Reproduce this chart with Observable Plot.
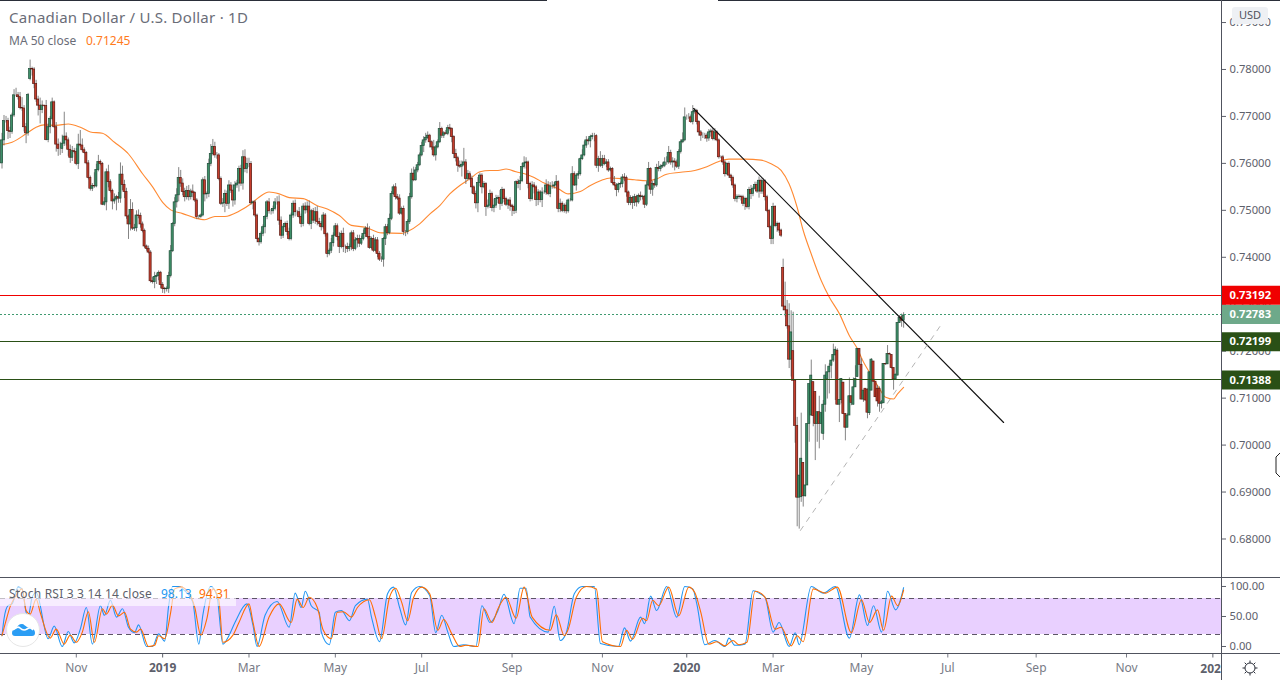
<!DOCTYPE html>
<html><head><meta charset="utf-8">
<script src="https://cdn.jsdelivr.net/npm/d3@7"></script>
<script src="https://cdn.jsdelivr.net/npm/@observablehq/plot@0.6"></script>
<style>
html,body{margin:0;padding:0;background:#fff;overflow:hidden}
#stage{position:relative;width:1280px;height:680px;overflow:hidden;font-family:"Noto Sans",sans-serif}
#top,#bottom{position:absolute;left:0}
#top{top:0}#bottom{top:578px}
.line{position:absolute;background:#50535e}
.t{position:absolute;white-space:nowrap;line-height:1}
</style></head><body><div id="stage">
<div id="top"></div><div id="bottom"></div>
<div class="line" style="left:0;top:0;width:547px;height:1px;background:#2a2e39"></div>
<div class="line" style="left:718px;top:0;width:562px;height:1px;background:#2a2e39"></div>
<div class="line" style="left:0;top:577px;width:1280px;height:1px"></div>
<div class="line" style="left:0;top:653px;width:1280px;height:1px"></div>
<div class="line" style="left:1221px;top:0;width:1px;height:680px"></div>
<div class="t" style="left:9px;top:10px;font-size:15px;letter-spacing:.25px;color:#6a6d78" id="title"></div>
<div class="t" style="left:9px;top:35px;font-size:12px;color:#6a6d78">MA 50 close</div>
<div class="t" style="left:86px;top:35px;font-size:12px;color:#ff7b1c" id="maVal"></div>
<div style="position:absolute;left:1232px;top:7px;width:36px;height:17px;background:#eef0f4;border-radius:3px"></div>
<div class="t" style="left:1232px;top:9px;width:36px;text-align:center;font-size:11px;color:#50535e">USD</div>
<div style="position:absolute;left:0;top:587px;width:236px;height:19px;background:rgba(255,255,255,.62)"></div>
<div class="t" style="left:9px;top:588px;font-size:12px;letter-spacing:.2px;color:#5d606b" id="stochName"></div>
<div class="t" style="left:161px;top:588px;font-size:12px;color:#2196f3" id="kVal"></div>
<div class="t" style="left:199px;top:588px;font-size:12px;color:#ff6d00" id="dVal"></div>
<svg style="position:absolute;left:5px;top:612px" width="36" height="36" viewBox="0 0 36 36">
<circle cx="18" cy="18" r="16.5" fill="#fff" stroke="#e6e6e6"/>
<path d="M7 21c0-3 2-4 4-4 1-3 3-5 6-5 2 0 3 2 5 3 2 1 4 0 5 2 2 0 3 2 3 4 0 2-1 3-3 3H10c-2 0-3-1-3-3z" fill="#2a9df4"/>
<path d="M8 18c3-3 5-4 7-2s4 3 7 1 4-1 6 1" fill="none" stroke="#fff" stroke-width="1.6"/>
</svg>
<svg style="position:absolute;left:1241px;top:659px" width="18" height="18" viewBox="0 0 18 18" fill="none" stroke="#2a2e39" stroke-width="1">
<circle cx="9" cy="9" r="5"/><path d="M9 1.5v2.5M9 14v2.5M1.5 9H4M14 9h2.5M3.7 3.7l1.7 1.7M12.6 12.6l1.7 1.7M3.7 14.3l1.7-1.7M12.6 5.4l1.7-1.7"/>
</svg>
<svg style="position:absolute;left:1274px;top:452px" width="6" height="26" viewBox="0 0 6 26" fill="#fff" stroke="#222" stroke-width="1">
<path d="M6 1L2 5v16l4 4"/>
</svg>
</div>
<script>
const titleText = "Canadian Dollar / U.S. Dollar · 1D";
const maLabel = "0.71245", stochLabel = "Stoch RSI 3 3 14 14 close", kLabel = "98.13", dLabel = "94.31";

// Daily closes in pips (1 pip = 0.0001), one per bar
const closes = [
7649,7690,7690,7669,7667,7702,7745,7745,7741,7718,
7717,7677,7664,7746,7801,7800,7769,7736,7723,7714,
7723,7722,7650,7677,7695,7730,7677,7640,7631,7631,
7642,7657,7649,7629,7612,7626,7624,7599,7640,7638,
7628,7622,7600,7569,7546,7552,7551,7586,7603,7599,
7512,7517,7581,7560,7541,7519,7523,7528,7525,7576,
7554,7539,7487,7470,7501,7461,7462,7489,7488,7470,
7456,7423,7418,7410,7349,7347,7358,7360,7367,7341,
7333,7332,7333,7360,7413,7471,7517,7532,7569,7557,
7539,7528,7541,7528,7540,7537,7521,7486,7486,7489,
7564,7534,7535,7599,7620,7635,7617,7617,7567,7514,
7515,7535,7514,7553,7542,7521,7553,7557,7588,7557,
7613,7588,7599,7599,7515,7517,7489,7439,7432,7450,
7464,7486,7517,7498,7498,7503,7517,7517,7478,7446,
7464,7471,7454,7439,7489,7514,7496,7496,7486,7471,
7508,7500,7508,7471,7498,7478,7496,7475,7471,7464,
7489,7449,7407,7414,7430,7446,7466,7443,7422,7450,
7422,7422,7418,7422,7451,7418,7436,7439,7429,7439,
7450,7461,7443,7420,7439,7414,7436,7407,7395,7395,
7439,7464,7452,7482,7535,7549,7528,7525,7493,7503,
7454,7454,7475,7528,7578,7564,7585,7596,7617,7637,
7649,7654,7659,7645,7634,7617,7634,7645,7673,7659,
7664,7663,7675,7673,7656,7620,7611,7595,7593,7597,
7602,7567,7577,7567,7549,7535,7515,7558,7574,7549,
7556,7507,7510,7535,7505,7510,7524,7526,7514,7543,
7524,7512,7521,7510,7507,7499,7560,7556,7562,7592,
7600,7602,7556,7524,7553,7549,7522,7538,7522,7538,
7538,7553,7535,7551,7551,7553,7560,7503,7514,7499,
7510,7498,7521,7521,7577,7553,7574,7577,7609,7617,
7638,7649,7647,7656,7658,7658,7595,7609,7595,7609,
7599,7602,7585,7588,7558,7553,7543,7555,7556,7570,
7569,7538,7516,7526,7516,7528,7517,7531,7528,7529,
7512,7553,7588,7544,7556,7553,7590,7588,7593,7595,
7602,7602,7622,7602,7604,7602,7593,7624,7645,7649,
7698,7698,7698,7688,7709,7712,7688,7666,7659,7659,
7659,7653,7666,7668,7652,7666,7649,7613,7613,7602,
7577,7599,7574,7569,7553,7524,7528,7529,7528,7514,
7524,7507,7543,7535,7546,7554,7540,7563,7540,7562,
7528,7499,7464,7439,7507,7467,7471,7457,7446,
7295,7287,7253,7182,7240,7137,7041,6888,6935,6971,
6891,6914,7045,7130,7148,7062,7045,7070,7045,7068,
7086,7148,7155,7167,7180,7192,7203,7086,7096,7141,
7066,7037,7063,7104,7090,7123,7141,7205,7171,7097,
7116,7095,7069,7155,7182,7135,7102,7093,7088,7091,
7173,7172,7194,7193,7164,7140,7150,7260,7271,7265,
7276];
const firstOpen = 7600;
// Bars whose open differs from the previous close
const gapOpenBars = [14,389,394,398,399,403,404,405,409,411,413,415,416,419,424,426,430,431,432,433,434,436,437,439,443,446,448];
const gapOpens = [7780,7377,7200,6889,6962,7063,7134,7113,7024,7141,7169,7191,7201,7133,7086,7145,7120,7118,7068,7116,7178,7120,7120,7089,7192,7148,7272];
const upWicks = [
15,12,10,6,8,5,12,15,6,10,22,6,8,3,19,4,4,8,7,16,
10,0,12,7,5,9,3,10,12,14,18,52,8,5,10,10,6,8,22,30,
14,5,3,6,4,5,28,12,14,4,3,10,7,15,5,4,12,4,10,25,
18,10,8,3,22,15,8,10,12,6,5,4,3,6,4,8,10,5,4,3,
5,3,4,8,12,3,10,14,22,16,10,8,10,12,5,14,3,4,3,3,
5,8,4,10,20,16,10,6,4,4,10,8,6,10,6,12,8,7,6,8,
14,16,12,12,5,3,4,3,3,4,5,3,4,8,4,6,8,12,14,8,
5,4,6,8,5,6,8,4,10,6,6,8,10,12,4,6,10,12,8,5,
6,4,3,4,10,6,6,5,10,6,12,4,8,6,5,6,6,8,8,6,
8,4,10,22,4,8,6,6,5,6,3,6,6,10,5,5,8,6,8,4,
6,3,5,8,10,14,6,6,5,8,8,10,8,3,3,15,4,5,14,4,
4,6,6,8,3,3,10,4,10,8,30,6,8,5,6,3,6,12,5,4,
5,3,12,8,4,14,8,5,16,6,3,4,3,6,3,4,3,6,10,8,
14,10,3,4,8,6,4,6,4,10,4,12,8,8,10,6,14,3,10,4,
4,6,3,4,16,5,4,6,3,12,8,8,4,4,6,6,3,6,16,8,
8,6,6,4,3,14,4,3,4,6,8,4,3,5,4,6,4,4,8,3,
3,8,14,3,6,10,8,14,4,6,10,12,14,6,8,6,5,5,5,16,
20,5,8,5,14,5,3,3,4,6,5,4,6,5,6,8,3,3,3,4,
4,3,4,3,4,3,5,4,3,4,4,3,6,10,4,6,6,8,4,6,
3,4,3,4,8,3,4,3,3,
19,52,21,48,46,83,0,18,0,97,0,0,0,0,33,0,0,0,34,0,
9,23,0,6,0,23,6,4,0,0,0,0,4,39,0,20,28,0,0,13,
0,0,2,0,2,0,0,7,4,4,0,1,18,2,0,0,1,0,5,7,6];
const downWicks = [
12,12,4,18,14,5,4,3,6,4,6,10,22,6,4,14,10,6,22,30,
8,2,2,6,14,4,3,16,16,14,10,6,12,14,12,8,4,4,12,4,
4,2,3,4,5,6,4,3,4,4,2,3,18,12,4,18,6,24,10,10,
12,14,6,32,14,4,6,8,6,8,4,4,5,3,4,4,14,16,10,8,
10,10,6,10,4,3,6,12,14,8,8,10,6,8,6,10,4,6,5,3,
3,16,10,8,6,4,6,8,4,4,8,20,6,12,6,14,10,6,18,6,
14,8,10,8,4,14,4,8,8,4,6,14,6,6,8,6,4,6,10,8,
6,8,8,4,4,6,10,8,4,8,6,8,6,4,12,6,8,8,6,8,
4,6,8,4,6,8,3,8,14,4,12,14,8,6,8,6,4,16,8,4,
4,8,4,3,4,4,3,8,4,6,16,14,6,4,4,4,6,4,4,3,
8,10,6,5,4,3,2,5,3,3,14,6,3,12,6,4,12,3,3,6,
6,3,4,4,12,10,8,14,4,22,4,12,4,4,14,3,12,20,8,14,
3,20,4,6,8,10,6,10,14,6,8,4,10,12,20,8,6,10,14,3,
4,12,10,6,4,14,14,12,6,16,4,6,4,8,6,6,4,8,8,4,
5,6,4,3,3,2,12,8,4,3,3,6,8,14,6,12,6,14,4,6,
4,8,4,3,3,3,14,6,8,8,8,10,6,6,14,8,10,4,8,6,
8,4,3,10,14,6,4,6,6,4,4,6,4,6,12,18,4,6,4,3,
3,6,4,3,6,4,6,8,12,6,8,8,6,10,4,4,3,4,3,6,
6,3,6,8,6,6,8,5,8,6,14,4,6,12,6,3,4,14,6,6,
8,4,3,12,12,4,14,6,4,
9,14,6,19,37,0,37,62,67,11,23,2,0,39,0,23,78,39,53,21,
14,16,43,46,28,4,96,0,38,8,0,28,0,0,6,1,0,0,0,0,
6,1,13,5,0,1,0,12,18,11,0,2,0,1,2,23,0,0,1,14,16];

// 50-day moving average, read at these bars (pips)
const maBars = [0,5,12,17,21,27,33,39,44,50,56,63,70,75,80,84,90,96,101,106,111,118,124,128,133,138,143,150,157,162,168,174,181,189,199,202,208,213,218,223,228,233,238,243,247,251,256,261,265,270,277,282,288,293,298,303,310,315,321,326,331,338,345,351,357,362,370,378,383,388,392,396,399,403,408,412,417,422,426,429,432,437,440,444,446,449];
const maValues = [7640,7645,7663,7677,7682,7681,7684,7677,7667,7664,7645,7620,7578,7550,7517,7501,7493,7484,7480,7487,7487,7498,7514,7528,7539,7535,7527,7525,7510,7503,7489,7468,7464,7452,7451,7455,7471,7492,7510,7535,7553,7567,7582,7585,7585,7588,7582,7577,7570,7558,7546,7535,7540,7553,7563,7569,7567,7565,7563,7567,7577,7581,7585,7593,7604,7609,7609,7607,7599,7585,7556,7506,7457,7407,7350,7315,7280,7233,7205,7177,7155,7120,7102,7098,7109,7123];

// Horizontal levels and their tags
const levelPrices = [0.73192,0.72199,0.71388];
const levelColors = ["#f00000","#2a5016","#2a5016"];
const lastPrice = 0.72783;
const priceTicks = [0.68,0.69,0.70,0.71,0.72,0.73,0.74,0.75,0.76,0.77,0.78,0.79];
// Trend lines [bar, price]
const trendBars = [344.4,498.8], trendPrices = [0.77169,0.70481];
const supportBars = [397.6,467.4], supportPrices = [0.68181,0.72547];

// Time axis
const monthBars = [37,123,166,209,254,299,384,428,471,515,560];
const monthLabels = ["Nov","Mar","May","Jul","Sep","Nov","Mar","May","Jul","Sep","Nov"];
const yearBars = [80,341];
const yearLabels = ["2019","2020"];
const clippedYearBar = [603], clippedYearLabel = "202";

// Stoch RSI %K and %D
const kBars = [0,1,3,5,8,10,12,13,15,17,23,26,30,33,36,39,42,45,49,51,54,57,60,63,66,68,72,75,78,81,83,85,88,91,95,98,100,104,107,110,113,116,122,125,127,131,137,143,146,149,151,154,158,159,163,166,169,173,176,182,184,188,192,195,198,201,204,208,213,216,219,222,225,230,236,239,243,247,250,255,258,261,263,272,275,278,281,285,289,295,298,307,310,313,318,320,323,326,331,336,340,344,346,350,355,360,362,365,370,374,378,380,384,387,392,395,397,403,409,415,422,427,431,434,438,441,445,449];
const kValues = [18,46,68,71,99,96,57,49,82,90,13,34,0,25,6,29,65,4,68,52,77,49,63,32,23,36,0,0,21,9,68,100,100,93,74,4,52,100,85,4,18,40,71,35,0,52,75,32,89,65,92,68,57,24,3,57,60,43,68,79,49,8,88,99,65,36,90,100,85,23,52,24,0,3,0,68,40,60,87,38,97,97,49,24,67,10,23,88,100,100,5,0,31,9,49,38,84,60,100,49,100,96,71,3,10,0,14,2,4,93,87,82,24,40,0,23,3,100,89,100,14,86,35,68,24,92,61,98];
const dBars = [0,2,4,7,10,12,14,17,19,24,27,31,34,37,40,43,46,50,52,55,58,61,64,67,69,73,76,78,81,84,86,89,93,96,99,102,105,108,110,115,118,123,125,128,133,138,144,147,150,153,157,160,164,167,170,174,177,183,186,189,193,196,199,202,205,209,213,217,220,224,228,231,237,240,244,247,251,256,260,264,273,276,280,282,286,291,296,299,308,311,314,319,321,324,327,332,337,342,345,348,352,356,360,364,367,371,375,380,385,388,393,396,399,404,410,416,423,428,432,436,439,443,446,449];
const dValues = [18,43,66,85,96,60,54,79,57,14,29,4,19,7,24,58,7,63,54,69,51,57,29,24,29,0,2,18,13,57,96,99,90,65,19,46,96,77,7,19,40,71,40,0,49,71,40,79,65,82,65,27,13,57,58,49,65,78,49,13,82,97,74,43,82,99,88,27,45,21,0,2,0,63,40,63,82,47,99,49,27,53,18,29,82,100,96,8,0,27,12,47,43,77,68,99,51,99,90,57,4,8,1,10,3,7,92,82,29,32,1,18,8,96,89,99,23,78,40,61,27,84,68,94];
const stochTicks = [0,50,100];
const bandLow = 20, bandHigh = 80;

document.getElementById("title").textContent = titleText;
document.getElementById("maVal").textContent = maLabel;
document.getElementById("stochName").textContent = stochLabel;
document.getElementById("kVal").textContent = kLabel;
document.getElementById("dVal").textContent = dLabel;

const pip = 1e-4;
const bars = closes.map((c,i)=>{
  const g = gapOpenBars.indexOf(i);
  const o = g>=0 ? gapOpens[g] : (i ? closes[i-1] : firstOpen);
  return {i, open:o*pip, close:c*pip,
    high:(Math.max(o,c)+upWicks[i])*pip, low:(Math.min(o,c)-downWicks[i])*pip};
});
const ma = maBars.map((b,k)=>({b, v:maValues[k]*pip}));
const xDomain = [-0.747,607.3], tagEnd = 640;
const plotFont = "'Noto Sans',sans-serif", axisColor = "#5d606b";
const halfBar = 0.52;
const isUp = d => d.close >= d.open;

const topPlot = Plot.plot({
  width:1280,height:578,marginLeft:0,marginRight:59,marginTop:1,marginBottom:0.5,
  style:{fontFamily:plotFont,background:"transparent"},
  x:{domain:xDomain,axis:null},
  y:{domain:[0.67169,0.79448],axis:null},
  marks:[
    Plot.lineY(ma,{x:"b",y:"v",stroke:"#ff8a33",strokeWidth:1.1,curve:"monotone-x"}),
    Plot.ruleX(bars,{x:"i",y1:"low",y2:"high",stroke:"#666",strokeWidth:0.8}),
    Plot.rect(bars,{x1:d=>d.i-halfBar,x2:d=>d.i+halfBar,y1:"open",y2:"close",
      fill:d=>isUp(d)?"#3f9069":"#c63d2c",stroke:d=>isUp(d)?"#1f4e39":"#5c1a12",strokeWidth:0.7}),
    Plot.ruleY(levelPrices,{stroke:(d,k)=>levelColors[k],strokeWidth:1,shapeRendering:"crispEdges"}),
    Plot.ruleY([lastPrice],{stroke:"#3f9a70",strokeWidth:1,strokeDasharray:"2,2",shapeRendering:"crispEdges"}),
    Plot.line(trendBars.map((b,k)=>({b,p:trendPrices[k]})),{x:"b",y:"p",stroke:"#111",strokeWidth:1.1}),
    Plot.line(supportBars.map((b,k)=>({b,p:supportPrices[k]})),{x:"b",y:"p",stroke:"#b5b5b5",strokeWidth:1,strokeDasharray:"5,6"}),
    Plot.axisY(priceTicks,{anchor:"right",tickFormat:".5f",tickSize:4,tickPadding:4,fontSize:11.2,color:axisColor,label:null}),
    Plot.ruleY(levelPrices,{x1:xDomain[1],x2:tagEnd,stroke:(d,k)=>levelColors[k],strokeWidth:19}),
    Plot.ruleY([lastPrice],{x1:xDomain[1],x2:tagEnd,stroke:"#6ea98a",strokeWidth:19}),
    Plot.text([...levelPrices,lastPrice],{y:d=>d,text:d=>d.toFixed(5),frameAnchor:"right",textAnchor:"start",dx:8,fill:"#fff",fontSize:11.2,fontWeight:"bold"})
  ]
});
document.getElementById("top").appendChild(topPlot);

const kLine = kBars.map((b,k)=>({b,v:kValues[k]})), dLine = dBars.map((b,k)=>({b,v:dValues[k]}));
const bottomPlot = Plot.plot({
  width:1280,height:102,marginLeft:0,marginRight:59,marginTop:0,marginBottom:26.5,
  style:{fontFamily:plotFont,background:"transparent"},
  x:{domain:xDomain,axis:null},
  y:{domain:[-12.5,113.3],axis:null},
  marks:[
    Plot.rect([{}],{x1:xDomain[0],x2:xDomain[1],y1:bandLow,y2:bandHigh,fill:"#e9d0ff"}),
    Plot.ruleY([bandLow,bandHigh],{stroke:"#5d5566",strokeDasharray:"5,4",strokeWidth:1,shapeRendering:"crispEdges"}),
    Plot.lineY(kLine,{x:"b",y:"v",stroke:"#2196f3",strokeWidth:1.1,curve:"monotone-x"}),
    Plot.lineY(dLine,{x:"b",y:"v",stroke:"#ff6d00",strokeWidth:1.1,curve:"monotone-x"}),
    Plot.axisY(stochTicks,{anchor:"right",tickFormat:".2f",tickSize:4,tickPadding:4,fontSize:11.2,color:axisColor,label:null}),
    Plot.axisX(monthBars,{anchor:"bottom",tickSize:4,tickPadding:5,fontSize:12,color:"#787b86",label:null,tickFormat:d=>monthLabels[monthBars.indexOf(d)]}),
    Plot.axisX([...yearBars,...clippedYearBar],{anchor:"bottom",tickSize:4,tickPadding:5,fontSize:12,color:"#5d606b",fontWeight:"bold",label:null,tickFormat:d=>{const k=yearBars.indexOf(d);return k>=0?yearLabels[k]:""}}),
    Plot.text(clippedYearBar,{x:d=>d,frameAnchor:"bottom",textAnchor:"end",lineAnchor:"top",dx:8,dy:10,text:()=>clippedYearLabel,fontSize:12,fontWeight:"bold",fill:"#5d606b"})
  ]
});
document.getElementById("bottom").appendChild(bottomPlot);
</script></body></html>
